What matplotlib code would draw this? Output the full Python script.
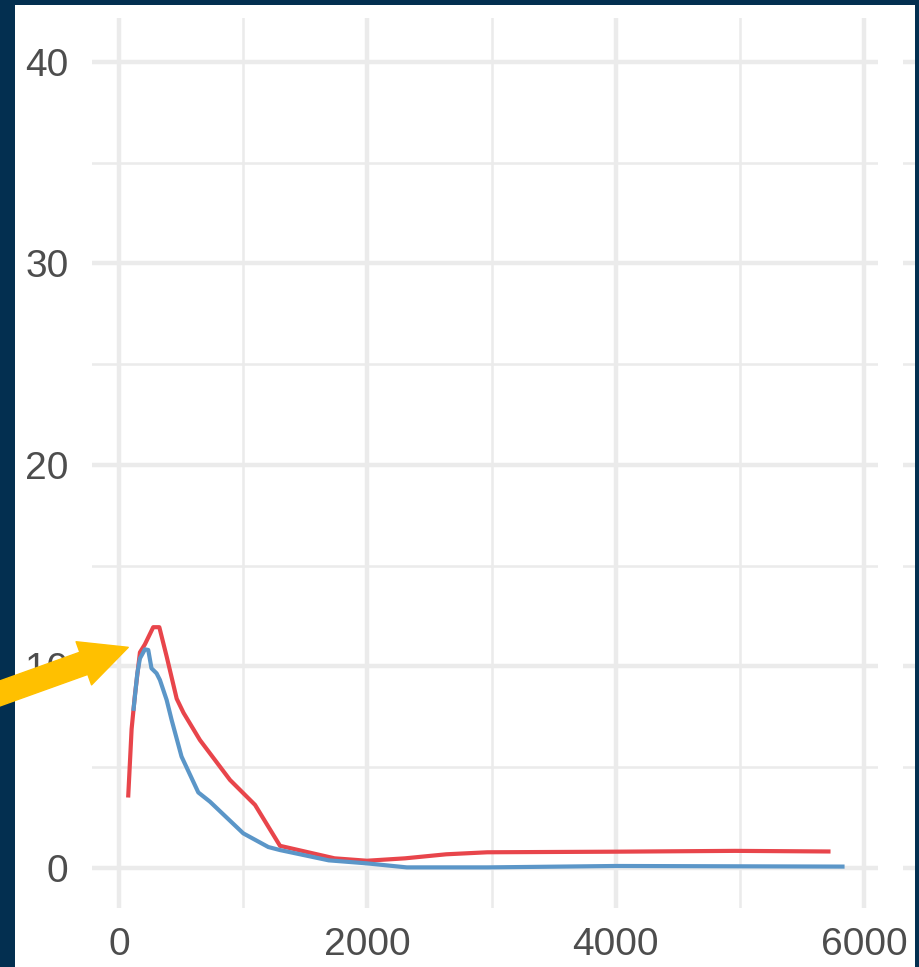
import matplotlib
matplotlib.use('Agg')
import matplotlib.pyplot as plt
from matplotlib.patches import Rectangle

# two series of the panel
red_x = [75, 102, 129, 169, 209, 276, 325, 384, 465, 520, 652, 894, 1096, 1297,
         1736, 1997, 2304, 2635, 2966, 4005, 4960, 5713]
red_y = [3.6, 6.9, 8.6, 10.7, 11.1, 11.95, 11.95, 10.5, 8.4, 7.7, 6.35, 4.37, 3.13, 1.1,
         0.48, 0.36, 0.48, 0.68, 0.78, 0.81, 0.85, 0.82]

blue_x = [118, 148, 169, 209, 236, 262, 303, 330, 384, 424, 504, 639, 733, 1001, 1203,
          1297, 1689, 1997, 2318, 2966, 4005, 5826]
blue_y = [7.9, 9.66, 10.4, 10.85, 10.82, 9.91, 9.66, 9.33, 8.34, 7.35, 5.53, 3.75, 3.29,
          1.72, 1.04, 0.89, 0.38, 0.23, 0.03, 0.03, 0.1, 0.07]

x_ticks = [0, 2000, 4000, 6000]
x_minor = [1000, 3000, 5000]
y_ticks = [0, 10, 20, 30, 40]
y_minor = [5, 15, 25, 35]

W, H = 920, 967
fig = plt.figure(figsize=(W / 100, H / 100), dpi=100, facecolor='#032f50')
plt.rcParams['font.family'] = ['Liberation Sans', 'DejaVu Sans']

# white plot background, kept behind the axes
fig.patches.append(Rectangle((15 / W, 0), 900 / W, 962 / H, transform=fig.transFigure,
                             facecolor='white', edgecolor='none', zorder=-10))

grid = '#EBEBEB'
ax = fig.add_axes([92 / W, (H - 908) / H, (878 - 92) / W, (908 - 18) / H])
ax.set_facecolor('white')
ax.set_xlim(-217, 6112)
ax.set_ylim(-1.985, 42.18)
ax.set_xticks(x_ticks)
ax.set_xticks(x_minor, minor=True)
ax.set_yticks(y_ticks)
ax.set_yticks(y_minor, minor=True)
ax.grid(True, which='major', color=grid, linewidth=3.2)
ax.grid(True, which='minor', color=grid, linewidth=1.8)
ax.set_axisbelow(True)
for s in ax.spines.values():
    s.set_visible(False)
ax.tick_params(which='both', length=0, labelsize=28, labelcolor='#4D4D4D')
ax.tick_params(axis='y', pad=17)
ax.tick_params(axis='x', pad=14)

ax.plot(red_x, red_y, color='#E8454B', linewidth=3.0, solid_joinstyle='round')
ax.plot(blue_x, blue_y, color='#5B96C8', linewidth=3.0, solid_joinstyle='round')

ax.annotate('', xy=(75, 10.95), xycoords='data',
            xytext=(-10, H - 697), textcoords='figure pixels',
            arrowprops=dict(arrowstyle='simple,head_length=34,head_width=33,tail_width=17',
                            mutation_scale=1, color='#FFC000', shrinkA=0, shrinkB=0),
            annotation_clip=False)

# edge of the neighbouring panel
ax2 = fig.add_axes([903 / W, (H - 908) / H, 12 / W, (908 - 18) / H])
ax2.set_facecolor('white')
ax2.set_ylim(-1.985, 42.18)
ax2.set_yticks(y_ticks)
ax2.set_yticks(y_minor, minor=True)
ax2.set_xticks([])
ax2.grid(True, axis='y', which='major', color=grid, linewidth=3.2)
ax2.grid(True, axis='y', which='minor', color=grid, linewidth=1.8)
for s in ax2.spines.values():
    s.set_visible(False)
ax2.tick_params(which='both', length=0, labelleft=False)

fig.savefig('out.png', dpi=100)
